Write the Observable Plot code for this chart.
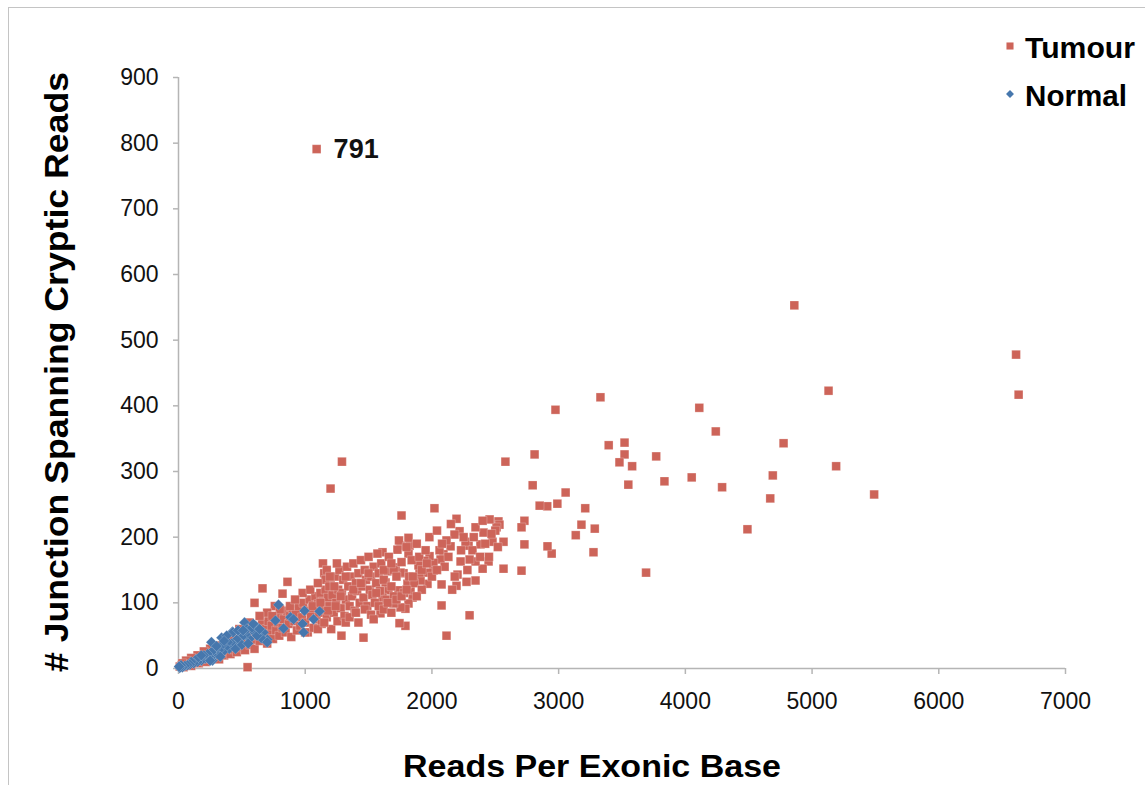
<!DOCTYPE html>
<html>
<head>
<meta charset="utf-8">
<script src="https://cdn.jsdelivr.net/npm/d3@7"></script>
<script src="https://cdn.jsdelivr.net/npm/@observablehq/plot@0.6"></script>
<style>
  html, body { margin: 0; padding: 0; background: #fff; }
  #wrap { position: relative; width: 1145px; height: 785px; overflow: hidden; }
  #frame { position: absolute; left: 8px; top: 7px; width: 1200px; height: 900px;
           border-left: 1.5px solid #c4c4c4; border-top: 1.5px solid #c4c4c4; }
  #chart { position: absolute; left: 0; top: 0; }
</style>
</head>
<body>
<div id="wrap"><div id="frame"></div><div id="chart"></div></div>
<script>
// ---- Data ----
const seriesNames = ["Tumour", "Normal"];
const seriesColors = ["#cd6459", "#4677ad"];
const xTicks = [0, 1000, 2000, 3000, 4000, 5000, 6000, 7000];
const yTicks = [0, 100, 200, 300, 400, 500, 600, 700, 800, 900];
const xTitle = "Reads Per Exonic Base";
const yTitle = "# Junction Spanning Cryptic Reads";

// Tumour: [reads per exonic base, junction spanning cryptic reads]
const tumour = [
  [1090,791],[4860,553],[6610,478],[6630,417],[5130,423],[5190,308],[5490,265],[4775,343],
  [4690,294],[4670,259],[4490,212],[4240,361],[4110,397],[4290,276],[4050,291],[3835,285],
  [3770,323],[3690,146],[3580,308],[3550,280],[3520,344],[3520,326],[3480,314],[3395,340],
  [3330,413],[2975,394],[3285,213],[3275,177],[3210,244],[3180,219],[3135,203],[3055,268],
  [2990,251],[2945,175],[2910,247],[2912,186],[2850,248],[2810,326],[2795,279],[2730,225],
  [2707,215],[2730,189],[2707,149],[2580,315],[2565,193],[2565,152],[2525,224],[2533,219],
  [2510,215],[2455,227],[2478,193],[2447,163],[2400,152],[2407,207],[2344,215],[2383,189],
  [2344,163],[2344,134],[2297,166],[2289,187],[2297,81],[2273,132],[2265,193],[2226,163],
  [2218,209],[2194,228],[2194,126],[2202,143],[2178,204],[2147,186],[2115,195],[2115,50],
  [2091,174],[2076,128],[2076,96],[2068,166],[2020,244],[2012,161],[2012,149],[1981,171],
  [1965,146],[1965,129],[1941,164],[1910,134],[1902,146],[1894,157],[1847,108],[1831,119],
  [1823,187],[1815,199],[1815,175],[1815,99],[1807,129],[1791,91],[1791,65],[1776,145],
  [1760,233],[1752,187],[1752,146],[1752,93],[1744,69],[1736,119],[1728,181],[1713,154],
  [1697,99],[1657,119],[1649,148],[1634,131],[1610,177],[1610,108],[1594,84],[1290,315],
  [1200,274],[860,132],[663,122],[821,114],[600,100],[545,2],[1286,50],[1460,47],
  [10,3],[25,5],[40,2],[55,8],[70,6],[85,10],[100,4],[110,12],[130,9],[150,14],[160,8],
  [175,16],[190,12],[200,18],[215,10],[230,20],[245,15],[260,22],[270,17],[285,25],[300,19],
  [310,28],[320,14],[335,24],[350,30],[360,20],[375,33],[390,26],[400,38],[410,22],[425,35],
  [440,29],[450,42],[460,25],[475,38],[490,45],[500,32],[515,48],[525,28],[540,40],[555,52],
  [565,36],[580,44],[590,58],[600,30],[610,50],[625,62],[640,42],[650,55],[660,68],[675,48],
  [690,60],[700,38],[710,72],[720,53],[735,65],[745,45],[760,78],[770,58],[785,70],[795,50],
  [810,82],[820,62],[830,75],[845,55],[855,88],[870,68],[880,80],[890,48],[900,92],[915,72],
  [925,85],[935,58],[950,95],[960,65],[975,78],[985,100],[1000,70],[1010,88],[1020,55],
  [1035,105],[1045,80],[1055,92],[1065,62],[1080,110],[1090,75],[1100,98],[1110,85],[1120,115],
  [1130,68],[1140,102],[1150,90],[1160,120],[1170,78],[1180,108],[1190,95],[1200,130],[1205,60],
  [1215,112],[1225,85],[1235,140],[1245,100],[1255,72],[1260,120],[1270,150],[1280,92],
  [1290,115],[1300,135],[1310,80],[1320,105],[1330,155],[1340,125],[1350,95],[1360,140],
  [1370,110],[1380,160],[1390,88],[1400,130],[1410,118],[1420,145],[1430,100],[1440,165],
  [1450,125],[1460,108],[1470,150],[1480,135],[1490,95],[1500,170],[1510,120],[1520,140],
  [1530,112],[1540,155],[1550,100],[1560,130],[1570,175],[1580,145],[1590,118],[1600,160],
  [1620,135],[1640,105],[1660,170],[1680,125],[1700,150],[1720,140],[1740,195],[1760,162],
  [1780,115],[1800,185],[1820,140],[1840,165],[1860,130],[1880,190],[1900,170],[1920,120],
  [1950,180],[1980,200],[2000,140],[2040,210],[2060,180],[2100,155],[2150,220],[2180,140],
  [2250,200],[2320,180],[2400,225],[2450,170],[2500,210],[2520,185],
  [1140,160],[1150,145],[1160,135],[1170,150],[1190,125],[1195,140],[1250,160],[1230,125],
  [1320,140],[1380,120],[1440,130],[1500,145],[1560,115],[1620,150],[1680,160],[1700,110],
  [980,115],[1040,120],[1100,130],[760,95],[700,85],[640,80],[560,70],[480,60],[420,50],
  [360,45],[300,35],[250,30],[200,26],[150,20],[100,16],[60,12],[30,8],
  [1320,70],[1350,78],[1400,85],[1420,70],[1470,90],[1520,82],[1540,75],[1580,95],[1620,90],
  [1650,100],[1680,85],[1720,105],[1760,110],[1800,120],[1850,140],[1880,110],[1920,150],
  [1960,160],[2040,150],[2080,190],[2130,170],[2160,120],[2230,180],[2280,150],[2330,200],
  [2380,170],[2420,190],[2470,205],[1100,60],[1150,70],[1000,55],[1060,95],[1120,100],
  [1180,88],[1240,95],[1280,110],[880,95],[920,105],[800,90],[740,80]
];

// Normal: [reads per exonic base, junction spanning cryptic reads]
const normal = [
  [789,97],[994,88],[1113,87],[521,70],[765,73],[884,78],[908,75],[979,68],[1066,75],
  [829,61],[987,55],[608,65],[623,62],[671,55],[702,44],[655,46],[340,47],[426,56],[268,12],
  [600,55],[560,45],[530,52],[500,48],[480,40],[460,44],[440,35],[420,38],[400,30],[390,40],
  [370,32],[350,25],[340,35],[320,28],[300,22],[290,30],[270,20],[260,25],[240,18],[230,22],
  [210,15],[200,20],[180,12],[170,16],[150,10],[140,14],[120,8],[100,10],[90,6],[70,5],
  [50,4],[30,2],[20,5],[10,1],[5,3],[430,55],[470,58],[540,60],[580,62],[620,50],[700,40],
  [260,40],[380,50],[450,30],[500,36],[550,38],[330,18],[250,12],[180,20],[640,60],[360,42],
  [300,34],[590,68],[510,58]
];

// ---- Chart ----
const chart = Plot.plot({
  width: 1145,
  height: 785,
  marginLeft: 178,
  marginRight: 80,
  marginTop: 77,
  marginBottom: 117,
  style: { fontFamily: "'Liberation Sans', Arial, Helvetica, sans-serif", background: "transparent", overflow: "visible" },
  x: { domain: [0, 7000], axis: null },
  y: { domain: [0, 900], axis: null },
  marks: [
    Plot.ruleX([0], { stroke: "#b5b5b5", strokeWidth: 1.5 }),
    Plot.ruleY([0], { stroke: "#b5b5b5", strokeWidth: 1.5 }),
    Plot.axisX(xTicks, { tickSize: 6, tickPadding: 18, fontSize: 23, stroke: "#b5b5b5", strokeWidth: 1.5, fill: "#111", tickFormat: d3.format("d"), label: null }),
    Plot.axisY(yTicks, { tickSize: 5, tickPadding: 15, fontSize: 23, stroke: "#b5b5b5", strokeWidth: 1.5, fill: "#111", tickFormat: d3.format("d"), label: null }),
    Plot.dot(tumour, { x: d => d[0], y: d => d[1], symbol: "square", r: 4.9, fill: seriesColors[0], stroke: "#fff", strokeWidth: 0.4, strokeOpacity: 0.6 }),
    Plot.dot(normal, { x: d => d[0], y: d => d[1], symbol: "diamond2", r: 4.9, fill: seriesColors[1], stroke: "#fff", strokeWidth: 0.4, strokeOpacity: 0.5 }),
    Plot.text(tumour.filter(d => d[1] > 700), { x: d => d[0], y: d => d[1], text: d => String(d[1]), dx: 17, textAnchor: "start", fontSize: 27, fontWeight: "bold", fill: "#111" })
  ]
});
document.getElementById("chart").appendChild(chart);

// Axis titles and legend
const svg = d3.select(chart);
svg.append("text")
  .attr("x", 592).attr("y", 777)
  .attr("text-anchor", "middle")
  .attr("font-size", 31).attr("font-weight", "bold").attr("fill", "#000")
  .attr("textLength", 378).attr("lengthAdjust", "spacingAndGlyphs")
  .text(xTitle);
svg.append("text")
  .attr("transform", "translate(68,372) rotate(-90)")
  .attr("text-anchor", "middle")
  .attr("font-size", 34).attr("font-weight", "bold").attr("fill", "#000")
  .attr("textLength", 600).attr("lengthAdjust", "spacingAndGlyphs")
  .text(yTitle);

const legendY = [46, 94];
const legendSymbols = [d3.symbolSquare, d3.symbolDiamond2];
seriesNames.forEach((name, i) => {
  svg.append("path")
    .attr("transform", `translate(1010,${legendY[i]})`)
    .attr("d", d3.symbol(legendSymbols[i], i === 0 ? 50 : 40)())
    .attr("fill", seriesColors[i]);
  svg.append("text")
    .attr("x", 1025).attr("y", legendY[i] + 12)
    .attr("text-anchor", "start")
    .attr("font-size", 29).attr("font-weight", "bold").attr("fill", "#000")
    .attr("textLength", i === 0 ? 110 : 102).attr("lengthAdjust", "spacingAndGlyphs")
    .text(name);
});
</script>
</body>
</html>
